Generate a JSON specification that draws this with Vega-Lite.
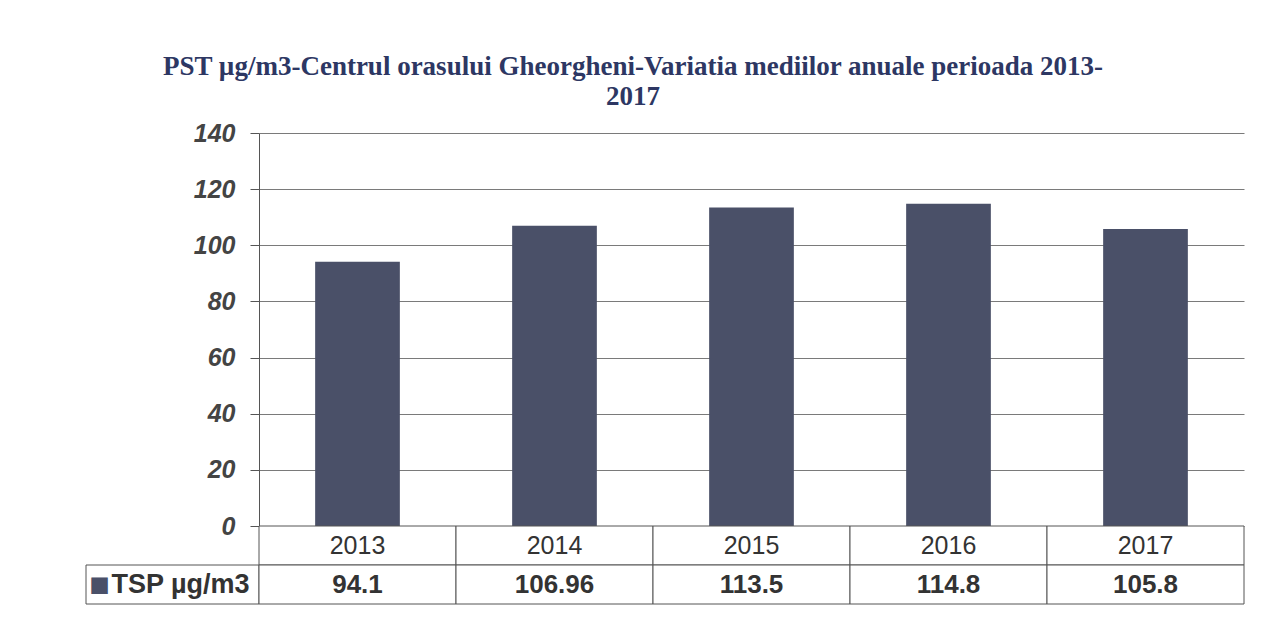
{
  "$schema": "https://vega.github.io/schema/vega-lite/v6.json",
  "title": {
    "text": ["PST µg/m3-Centrul orasului Gheorgheni-Variatia mediilor anuale perioada 2013-", "2017"],
    "font": "Liberation Serif",
    "fontSize": 27,
    "fontWeight": "bold",
    "color": "#2d3763",
    "anchor": "middle",
    "lineHeight": 30,
    "offset": 10,
    "dx": -32
  },
  "padding": {"left": 85, "top": 53, "right": 10, "bottom": 10},
  "background": "white",
  "data": {
    "values": [
      {"year": "2013", "value": 94.1},
      {"year": "2014", "value": 106.96},
      {"year": "2015", "value": 113.5},
      {"year": "2016", "value": 114.8},
      {"year": "2017", "value": 105.8}
    ]
  },
  "columns": 2,
  "spacing": 0,
  "bounds": "flush",
  "concat": [
    {
      "width": 173,
      "height": 393,
      "data": {"values": [{"t": ""}]},
      "mark": {"type": "text"},
      "encoding": {"text": {"field": "t"}}
    },
    {
      "width": 985,
      "height": 393,
      "mark": {"type": "bar", "color": "#4a5068", "width": {"band": 0.43}},
      "encoding": {
        "x": {"field": "year", "type": "nominal", "sort": null, "scale": {"paddingInner": 0, "paddingOuter": 0}, "axis": null},
        "y": {
          "field": "value",
          "type": "quantitative",
          "scale": {"domain": [0, 140]},
          "axis": {
            "values": [0, 20, 40, 60, 80, 100, 120, 140],
            "grid": true,
            "gridColor": "#7a7a7a",
            "domainColor": "#555",
            "tickColor": "#555",
            "tickSize": 9,
            "labelPadding": 15,
            "labelFont": "Liberation Sans",
            "labelFontSize": 25,
            "labelFontStyle": "italic",
            "labelFontWeight": "bold",
            "labelColor": "#444",
            "title": null
          }
        }
      }
    },
    {
      "width": 173,
      "height": 78,
      "data": {"values": [{"label": "TSP µg/m3"}]},
      "layer": [
        {
          "mark": {"type": "rect", "fill": "white", "stroke": "#555", "strokeWidth": 1},
          "encoding": {
            "y": {"datum": "value", "type": "nominal", "scale": {"domain": ["year", "value"], "paddingInner": 0, "paddingOuter": 0}, "axis": null}
          }
        },
        {
          "mark": {"type": "text", "text": "■", "fontSize": 34, "color": "#4a5068", "dx": -73, "dy": 1},
          "encoding": {"y": {"datum": "value", "type": "nominal"}}
        },
        {
          "mark": {"type": "text", "font": "Liberation Sans", "fontSize": 27, "fontWeight": "bold", "color": "#333", "dx": 8},
          "encoding": {"y": {"datum": "value", "type": "nominal"}, "text": {"field": "label"}}
        }
      ]
    },
    {
      "width": 985,
      "height": 78,
      "layer": [
        {
          "mark": {"type": "rect", "fill": "white", "stroke": "#555", "strokeWidth": 1},
          "encoding": {
            "x": {"field": "year", "type": "nominal", "sort": null, "scale": {"paddingInner": 0, "paddingOuter": 0}, "axis": null},
            "y": {"datum": "year", "type": "nominal", "scale": {"domain": ["year", "value"], "paddingInner": 0, "paddingOuter": 0}, "axis": null}
          }
        },
        {
          "mark": {"type": "rect", "fill": "white", "stroke": "#555", "strokeWidth": 1},
          "encoding": {
            "x": {"field": "year", "type": "nominal", "sort": null},
            "y": {"datum": "value", "type": "nominal"}
          }
        },
        {
          "mark": {"type": "text", "font": "Liberation Sans", "fontSize": 25, "color": "#333"},
          "encoding": {
            "x": {"field": "year", "type": "nominal", "sort": null},
            "y": {"datum": "year", "type": "nominal"},
            "text": {"field": "year"}
          }
        },
        {
          "mark": {"type": "text", "font": "Liberation Sans", "fontSize": 26, "fontWeight": "bold", "color": "#333"},
          "encoding": {
            "x": {"field": "year", "type": "nominal", "sort": null},
            "y": {"datum": "value", "type": "nominal"},
            "text": {"field": "value", "type": "nominal"}
          }
        }
      ]
    }
  ],
  "config": {"view": {"stroke": null}, "font": "Liberation Sans"}
}
